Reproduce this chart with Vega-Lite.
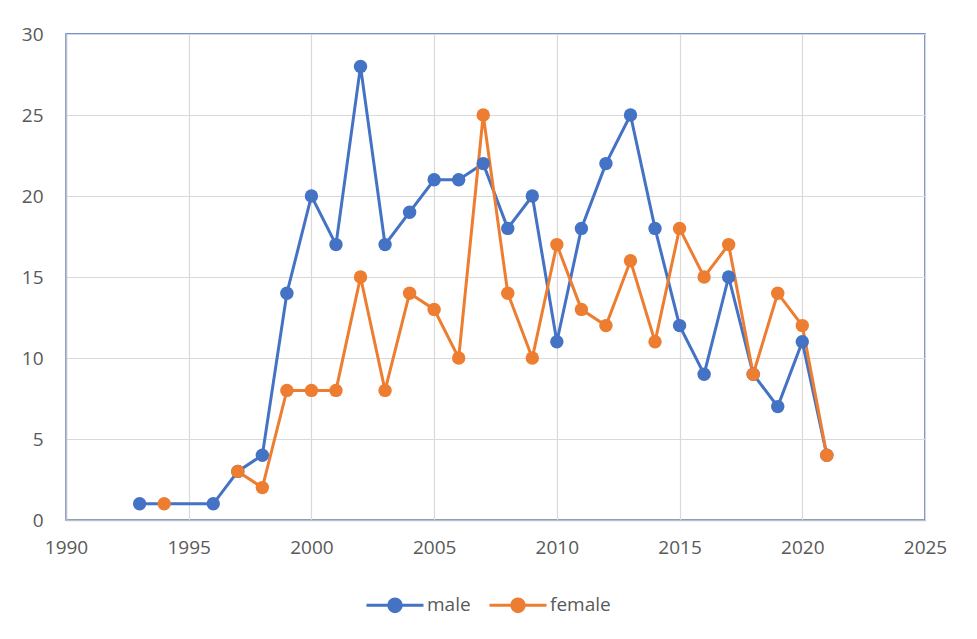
{
  "$schema": "https://vega.github.io/schema/vega-lite/v6.json",
  "width": 859,
  "height": 486,
  "autosize": {"type": "none"},
  "padding": {"left": 66, "top": 34, "right": 52, "bottom": 119},
  "background": "white",
  "data": {"values": [
    {"year": 1993, "sex": "male", "count": 1},
    {"year": 1996, "sex": "male", "count": 1},
    {"year": 1997, "sex": "male", "count": 3},
    {"year": 1998, "sex": "male", "count": 4},
    {"year": 1999, "sex": "male", "count": 14},
    {"year": 2000, "sex": "male", "count": 20},
    {"year": 2001, "sex": "male", "count": 17},
    {"year": 2002, "sex": "male", "count": 28},
    {"year": 2003, "sex": "male", "count": 17},
    {"year": 2004, "sex": "male", "count": 19},
    {"year": 2005, "sex": "male", "count": 21},
    {"year": 2006, "sex": "male", "count": 21},
    {"year": 2007, "sex": "male", "count": 22},
    {"year": 2008, "sex": "male", "count": 18},
    {"year": 2009, "sex": "male", "count": 20},
    {"year": 2010, "sex": "male", "count": 11},
    {"year": 2011, "sex": "male", "count": 18},
    {"year": 2012, "sex": "male", "count": 22},
    {"year": 2013, "sex": "male", "count": 25},
    {"year": 2014, "sex": "male", "count": 18},
    {"year": 2015, "sex": "male", "count": 12},
    {"year": 2016, "sex": "male", "count": 9},
    {"year": 2017, "sex": "male", "count": 15},
    {"year": 2018, "sex": "male", "count": 9},
    {"year": 2019, "sex": "male", "count": 7},
    {"year": 2020, "sex": "male", "count": 11},
    {"year": 2021, "sex": "male", "count": 4},
    {"year": 1994, "sex": "female", "count": 1},
    {"year": 1995, "sex": "female", "count": null},
    {"year": 1997, "sex": "female", "count": 3},
    {"year": 1998, "sex": "female", "count": 2},
    {"year": 1999, "sex": "female", "count": 8},
    {"year": 2000, "sex": "female", "count": 8},
    {"year": 2001, "sex": "female", "count": 8},
    {"year": 2002, "sex": "female", "count": 15},
    {"year": 2003, "sex": "female", "count": 8},
    {"year": 2004, "sex": "female", "count": 14},
    {"year": 2005, "sex": "female", "count": 13},
    {"year": 2006, "sex": "female", "count": 10},
    {"year": 2007, "sex": "female", "count": 25},
    {"year": 2008, "sex": "female", "count": 14},
    {"year": 2009, "sex": "female", "count": 10},
    {"year": 2010, "sex": "female", "count": 17},
    {"year": 2011, "sex": "female", "count": 13},
    {"year": 2012, "sex": "female", "count": 12},
    {"year": 2013, "sex": "female", "count": 16},
    {"year": 2014, "sex": "female", "count": 11},
    {"year": 2015, "sex": "female", "count": 18},
    {"year": 2016, "sex": "female", "count": 15},
    {"year": 2017, "sex": "female", "count": 17},
    {"year": 2018, "sex": "female", "count": 9},
    {"year": 2019, "sex": "female", "count": 14},
    {"year": 2020, "sex": "female", "count": 12},
    {"year": 2021, "sex": "female", "count": 4}
  ]},
  "mark": {"type": "line", "strokeWidth": 3, "point": {"filled": true, "size": 180, "opacity": 1}},
  "encoding": {
    "x": {
      "field": "year", "type": "quantitative",
      "scale": {"domain": [1990, 2025], "nice": false, "zero": false},
      "axis": {"values": [1990, 1995, 2000, 2005, 2010, 2015, 2020, 2025], "format": "d", "title": null,
               "labelFontSize": 19, "labelColor": "#595959", "labelFont": "Open Sans", "labelPadding": 18,
               "ticks": false, "domainColor": "#bfbfbf", "domainWidth": 1.5, "gridColor": "#d9d9d9", "gridWidth": 1.2, "labelFlush": false}
    },
    "y": {
      "field": "count", "type": "quantitative",
      "scale": {"domain": [0, 30], "nice": false},
      "axis": {"values": [0, 5, 10, 15, 20, 25, 30], "title": null,
               "labelFontSize": 19, "labelColor": "#595959", "labelFont": "Open Sans", "labelPadding": 23,
               "ticks": false, "domainColor": "#bfbfbf", "domainWidth": 1.5, "gridColor": "#d9d9d9", "gridWidth": 1.2}
    },
    "color": {
      "field": "sex", "type": "nominal",
      "scale": {"domain": ["male", "female"], "range": ["#4472C4", "#ED7D31"]},
      "legend": {
        "title": null, "orient": "none", "direction": "horizontal", "legendX": 299, "legendY": 541,
        "labelFontSize": 19, "labelColor": "#595959", "labelFont": "Open Sans",
        "symbolType": "M -1 0 L 1 0 M 0.22 0 A 0.22 0.22 0 1 1 -0.22 0 A 0.22 0.22 0 1 1 0.22 0 Z",
        "symbolSize": 3249, "symbolStrokeWidth": 3, "columnPadding": 12, "labelOffset": 2,
        "encode": {"symbols": {"update": {"fill": {"scale": "color", "field": "value"}, "fillOpacity": {"value": 1}}}}
      }
    }
  },
  "config": {
    "view": {"stroke": "#4472C4", "strokeWidth": 1.5}
  }
}
